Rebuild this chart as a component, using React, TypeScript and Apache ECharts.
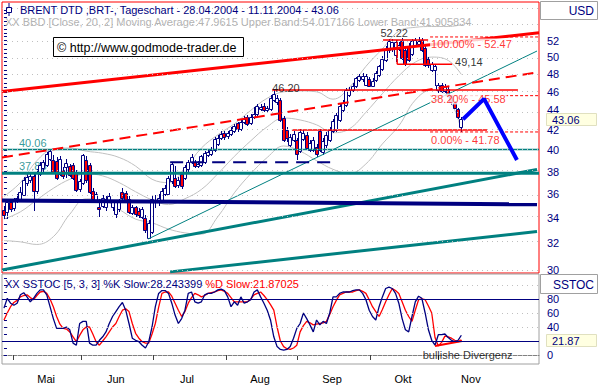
import React, { useEffect, useRef } from 'react';
import * as echarts from 'echarts';

// ---------- data ----------
const opens = [
  34.65, 34.5, 35.3, 34.8, 35.4, 35.5, 35.9, 37.0, 37.2, 37.6,
  36.3, 37.8, 38.3, 38.6, 39.2, 39.06, 39.0, 37.8, 38.1, 38.4,
  38.5, 38.6, 37.9, 36.4, 37.0, 39.1, 38.6, 36.3, 35.4, 34.9,
  35.0, 34.9, 35.4, 34.9, 34.3, 34.7, 36.2, 36.1, 35.6, 34.4,
  34.9, 34.6, 34.1, 34.0, 32.4, 32.9, 35.3, 35.3, 35.5, 36.0,
  36.0, 37.1, 37.4, 36.8, 37.8, 37.4, 38.2, 38.9, 38.9, 38.5,
  38.6, 38.9, 39.5, 39.6, 40.0, 40.6, 41.2, 41.7, 41.4, 41.6,
  41.9, 42.7, 42.1, 42.8, 43.3, 42.7, 43.3, 43.6, 44.1, 44.5,
  44.0, 44.1, 45.1, 44.9, 45.1, 43.2, 42.0, 40.5, 41.0, 41.0,
  39.9, 41.1, 41.5, 40.0, 40.0, 40.3, 41.9, 39.8, 40.5, 41.0,
  41.9, 42.0, 43.0, 44.0, 44.6, 45.6, 46.2, 46.6, 47.3, 47.4,
  46.8, 47.4, 46.7, 47.3, 47.9, 48.6, 49.7, 50.8, 51.0, 50.3,
  51.0, 52.0, 50.8, 51.4, 50.4, 51.5, 51.6, 52.1, 51.1, 49.8,
  48.5, 48.5, 46.2, 46.8, 46.1, 46.3, 45.5, 44.8, 44.1, 42.3,
];
const highs = [
  35.0, 35.5, 35.5, 35.7, 36.0, 36.6, 37.5, 37.8, 38.0, 37.9,
  38.2, 38.9, 39.1, 39.8, 40.06, 39.5, 39.3, 39.4, 38.4, 39.2,
  38.7, 38.8, 38.1, 37.3, 39.6, 39.4, 38.8, 36.5, 36.2, 35.6,
  35.9, 35.8, 36.1, 35.5, 35.5, 35.6, 36.5, 36.3, 35.8, 35.1,
  35.0, 34.8, 34.9, 34.2, 33.8, 35.8, 35.9, 36.0, 36.5, 36.8,
  37.6, 38.8, 38.5, 37.5, 38.0, 38.6, 39.1, 39.6, 39.1, 39.0,
  39.5, 39.9, 40.0, 40.3, 41.3, 41.5, 41.9, 41.9, 41.9, 42.3,
  42.6, 42.8, 43.0, 43.4, 43.5, 43.6, 44.4, 44.7, 44.7, 44.8,
  44.5, 45.6, 46.2, 45.7, 45.3, 43.4, 42.3, 41.6, 41.9, 41.2,
  42.1, 42.0, 41.8, 41.0, 41.3, 40.6, 42.1, 41.2, 41.8, 42.3,
  43.1, 43.7, 44.7, 45.1, 46.4, 46.5, 47.0, 47.7, 48.0, 48.1,
  48.0, 47.7, 47.5, 48.3, 49.1, 50.1, 51.3, 52.22, 52.2, 52.1,
  51.9, 52.3, 51.1, 51.7, 52.2, 52.4, 52.47, 52.3, 51.3, 50.0,
  49.4, 49.2, 47.0, 47.0, 46.9, 46.5, 45.7, 45.0, 44.3, 43.3,
];
const lows = [
  33.9, 33.9, 34.5, 34.6, 35.2, 35.3, 35.8, 36.7, 37.0, 34.6,
  36.0, 37.6, 38.0, 38.4, 39.0, 37.8, 37.2, 37.6, 37.3, 37.4,
  37.5, 37.2, 36.2, 36.2, 36.8, 37.0, 36.0, 35.3, 35.2, 34.1,
  34.8, 34.6, 35.2, 34.6, 34.0, 34.5, 35.5, 35.2, 34.3, 34.2,
  34.1, 34.0, 33.9, 32.8, 32.3, 32.7, 34.8, 35.0, 35.3, 35.8,
  35.9, 36.9, 36.5, 36.5, 36.4, 37.2, 38.0, 38.7, 38.3, 38.3,
  38.4, 38.7, 39.3, 39.4, 39.8, 40.4, 41.0, 41.0, 41.1, 41.4,
  41.7, 41.8, 41.9, 42.6, 42.4, 42.5, 43.1, 43.4, 43.9, 43.8,
  43.8, 43.9, 44.9, 44.6, 42.8, 40.8, 40.8, 40.3, 40.8, 39.1,
  39.7, 40.9, 40.0, 39.8, 39.8, 39.3, 39.8, 39.5, 40.2, 40.8,
  41.7, 41.8, 42.8, 43.8, 44.4, 45.4, 46.0, 46.4, 47.1, 47.1,
  46.6, 46.5, 46.5, 47.1, 47.7, 48.4, 49.4, 50.5, 50.6, 49.4,
  50.7, 49.6, 48.9, 49.4, 50.1, 51.2, 51.3, 50.6, 48.8, 48.7,
  48.2, 46.6, 45.9, 45.9, 45.9, 45.4, 44.6, 44.1, 43.1, 41.78,
];
const closes = [
  34.24, 35.3, 34.7, 35.5, 35.7, 36.2, 37.2, 37.5, 37.6, 36.3,
  37.9, 38.6, 38.9, 39.6, 39.9, 38.0, 37.4, 39.2, 37.6, 38.8,
  37.7, 37.4, 36.35, 37.1, 39.5, 37.2, 36.2, 35.6, 36.0, 34.7,
  35.7, 35.6, 35.8, 35.3, 35.3, 35.4, 35.7, 35.4, 34.5, 34.9,
  34.3, 34.2, 34.7, 33.0, 33.6, 35.6, 35.5, 35.7, 36.3, 36.5,
  37.4, 38.7, 36.7, 37.2, 36.7, 38.4, 38.9, 39.3, 38.5, 38.7,
  39.4, 39.7, 39.8, 40.0, 41.1, 41.2, 41.6, 41.3, 41.7, 42.0,
  42.4, 42.1, 42.8, 43.1, 42.6, 43.3, 43.6, 44.5, 44.4, 44.0,
  44.2, 45.3, 45.8, 45.3, 43.0, 41.0, 41.2, 41.3, 41.6, 39.6,
  41.8, 41.7, 40.2, 40.7, 41.0, 39.6, 40.0, 40.9, 41.5, 42.0,
  42.9, 43.5, 44.5, 44.8, 46.2, 46.2, 46.7, 47.5, 47.8, 47.8,
  47.8, 46.7, 47.2, 48.1, 48.9, 49.8, 51.0, 52.0, 51.9, 51.8,
  51.5, 49.9, 49.2, 49.6, 52.0, 52.1, 52.0, 50.9, 49.1, 49.0,
  49.2, 48.9, 46.8, 46.1, 46.7, 45.6, 44.9, 44.3, 43.3, 43.06,
];

// Bollinger band (20, 2) read at every 5th day
const bbDays = [0, 5, 10, 15, 20, 25, 30, 35, 40, 45, 50, 55, 60, 65, 70, 75, 80, 85, 90, 95, 100, 105, 110, 115, 120, 125, 130, 135, 139];
const bbUpper = [35.8, 37.0, 39.0, 40.1, 40.2, 39.9, 39.7, 39.3, 38.5, 37.3, 37.0, 38.3, 40.2, 41.5, 42.6, 44.0, 45.3, 46.0, 46.1, 46.0, 45.2, 46.5, 48.9, 51.0, 53.2, 53.7, 53.8, 53.8, 54.02];
const bbMiddle = [33.9, 34.5, 35.5, 36.5, 37.3, 37.8, 37.6, 37.0, 36.2, 35.5, 35.1, 35.6, 36.4, 37.8, 39.4, 40.9, 42.3, 43.2, 43.0, 42.5, 41.7, 42.1, 43.8, 45.8, 47.8, 49.4, 50.0, 49.6, 47.96];
const bbLower = [32.2, 32.1, 31.9, 32.5, 34.3, 35.6, 35.5, 34.7, 33.9, 33.6, 33.1, 32.8, 32.7, 34.1, 36.1, 37.8, 39.3, 40.4, 39.9, 39.0, 38.2, 37.8, 38.7, 40.6, 42.4, 45.1, 46.2, 45.4, 41.91];

// Slow stochastic (5,3,3)
const stochK = [
  67, 81, 74, 71, 74, 86, 89, 83, 76, 81,
  88, 93, 93, 86, 69, 52, 38, 38, 38, 40,
  36, 17, 14, 45, 48, 48, 17, 14, 14, 21,
  26, 33, 45, 55, 62, 69, 75, 64, 45, 24,
  21, 19, 14, 10, 19, 40, 69, 88, 92, 92,
  88, 74, 57, 45, 52, 64, 88, 90, 76, 74,
  76, 86, 88, 88, 90, 93, 94, 92, 83, 69,
  76, 71, 83, 74, 76, 79, 90, 93, 83, 74,
  64, 50, 26, 12, 8, 7, 8, 12, 24, 38,
  45, 60, 52, 43, 33, 50, 43, 48, 45, 60,
  83, 83, 88, 90, 90, 90, 92, 93, 93, 88,
  79, 64, 55, 50, 69, 83, 95, 97, 95, 88,
  74, 52, 36, 33, 55, 76, 84, 81, 60, 36,
  21, 14, 29, 29, 30, 25, 21, 19, 21, 28.24,
];
const stochD = [
  50, 60, 69, 75, 78, 83, 85, 86, 82, 79,
  85, 90, 91, 88, 80, 69, 55, 44, 38, 37,
  33, 26, 19, 28, 36, 40, 40, 30, 19, 14,
  20, 26, 33, 40, 45, 55, 64, 66, 62, 45,
  31, 24, 19, 17, 17, 30, 45, 68, 88, 90,
  90, 84, 74, 64, 55, 62, 74, 82, 88, 86,
  83, 85, 88, 89, 90, 92, 93, 91, 88, 82,
  76, 76, 76, 76, 76, 80, 86, 88, 90, 85,
  79, 72, 64, 40, 20, 12, 9, 8, 10, 14,
  33, 42, 48, 46, 43, 44, 45, 46, 48, 58,
  69, 78, 86, 88, 90, 90, 90, 92, 93, 91,
  88, 79, 69, 62, 55, 65, 76, 86, 95, 92,
  88, 76, 64, 55, 48, 64, 79, 80, 79, 70,
  60, 25, 13, 18, 27, 26, 24, 21, 19, 21.87,
];

// axis ticks
const priceLabels = [30, 32, 34, 36, 38, 40, 42, 44, 46, 48, 50, 52];
const priceGrid = [30, 32, 34, 36, 38, 40, 42, 44, 46, 48, 50, 52, 54, 56];
const stochLabels = [0, 40, 60, 80];
const stochTicks = [0, 10, 20, 30, 40, 50, 60, 70, 80, 90, 100, 110];
const monthLabels = ['Mai', 'Jun', 'Jul', 'Aug', 'Sep', 'Okt', 'Nov'];
const monthLabelDays = [12.8, 34.0, 55.6, 77.8, 99.7, 121.3, 141.9];
const monthTickDays = [2.74, 23.4, 45.3, 67.5, 89.1, 111.2, 131.9];

// drawn lines: [day, price]
const redChannelTop = [[-0.6, 46.03], [162.6, 53.0]];
const redChannelMid = [[-0.6, 39.3], [162.0, 48.2]];
const tealThinTrend = [[43.8, 32.32], [162.0, 50.73]];
const tealTrendA = [[-0.6, 30.0], [162.0, 38.19]];
const tealTrendB = [[50.5, 29.87], [162.0, 32.91]];
const navySupport = [[-0.6, 35.45], [162.0, 35.12]];
const navyDashed = [[50.5, 38.85], [100.0, 38.85]];
const tealLevel40 = [[-0.6, 40.06], [162.6, 40.06]];
const tealLevel37 = [[-0.6, 37.85], [162.6, 37.85]];
const redLevel46 = [[81.5, 46.2], [156.2, 46.2]];
const redLevel42 = [[87.5, 41.98], [146.8, 41.98]];
const redLevel49 = [[119.5, 49.14], [136.2, 49.14]];
const redBoxTop = [[115.2, 52.09], [128.9, 52.09]];
const redBoxSide = [[119.5, 52.09], [119.5, 49.14]];
const fibLevels = [52.47, 45.58, 41.78];
const fibStart = 129.5;
const blueProjection = [[139.5, 43.08], [145.9, 45.23], [155.9, 39.06]];
const stochDivergence = [[131.0, 12.9], [139.2, 20.0]];

const annotations = [
  { text: '52.22', day: 118.6, price: 52.91, color: '#000000', anchor: 'center', top: true },
  { text: '46.20', day: 85.7, price: 46.48, color: '#000000', anchor: 'center', top: true },
  { text: '49,14', day: 136.8, price: 49.41, color: '#000000', anchor: 'left', top: true },
  { text: '40.06', day: 4.26, price: 40.68, color: '#008080', anchor: 'left', top: false },
  { text: '37.85', day: 4.26, price: 38.5, color: '#008080', anchor: 'left', top: false },
  { text: '100.00% - 52.47', day: 129.5, price: 51.59, color: '#FF0000', anchor: 'left', top: true, bg: true },
  { text: '38.20% - 45.58', day: 129.5, price: 45.21, color: '#FF0000', anchor: 'left', top: true, bg: true },
  { text: '0.00% - 41.78', day: 129.5, price: 40.98, color: '#FF0000', anchor: 'left', top: true, bg: true },
];

const lastClose = 43.06;
const lastStoch = 21.87;

// ---------- styling ----------
const NAVY = '#000080';
const RED = '#FF0000';
const TEAL = '#008080';
const BLUE = '#0000FF';
const GRAY = '#C0C0C0';
const FONT = "'Liberation Sans', Arial, Helvetica, sans-serif";
const PRICE_MIN = 29.79;
const PRICE_MAX = 57.06;

const ln = Math.log;

function priceLine(pts: number[][], color: string, width: number, type: any = 'solid', z = 4) {
  return {
    type: 'line',
    xAxisIndex: 0,
    yAxisIndex: 0,
    data: pts.map(([d, p]) => [d, ln(p)]),
    symbol: 'none',
    silent: true,
    clip: true,
    z,
    lineStyle: { color, width, type },
  };
}

function annotationSeries(top: boolean, z: number) {
  return {
    type: 'scatter',
    xAxisIndex: 0,
    yAxisIndex: 0,
    symbolSize: 0,
    silent: true,
    z,
    data: annotations
      .filter((a) => a.top === top)
      .map((a) => ({
        value: [a.day, ln(a.price)],
        label: {
          show: true,
          formatter: a.text,
          position: a.anchor === 'left' ? 'right' : 'inside',
          distance: 0,
          color: a.color,
          fontSize: 11,
          fontFamily: FONT,
          backgroundColor: (a as any).bg ? '#ffffff' : 'transparent',
          padding: [0, 1, 0, 1],
        },
      })),
  };
}

export default function App() {
  const ref = useRef<HTMLDivElement>(null);

  useEffect(() => {
    if (!ref.current) return;
    const chart = echarts.init(ref.current, undefined, { renderer: 'svg' });

    const candleData = opens.map((o, i) => [i, ln(o), ln(highs[i]), ln(lows[i]), ln(closes[i])]);
    const minorTicks: number[] = [];
    for (let p = 30; p <= 56; p += 0.5) minorTicks.push(ln(p));

    const option: any = {
      animation: false,
      backgroundColor: '#ffffff',
      textStyle: { fontFamily: FONT },
      grid: [
        { left: 2, top: 2, width: 537, height: 271, show: true, borderColor: RED, borderWidth: 1, backgroundColor: '#ffffff' },
        { left: 2, top: 274, width: 537, height: 90, show: true, borderColor: '#A0A0A0', borderWidth: 1, backgroundColor: '#ffffff' },
      ],
      xAxis: [
        { type: 'value', gridIndex: 0, min: -0.6, max: 162.6, show: false },
        {
          type: 'value', gridIndex: 1, min: -0.6, max: 162.6, position: 'bottom',
          axisLine: { show: true, lineStyle: { color: '#808080', width: 1 } },
          axisTick: { show: true, customValues: monthTickDays, length: 5, lineStyle: { color: '#404040' } },
          axisLabel: {
            show: true, customValues: monthLabelDays, color: '#000000', fontSize: 11, margin: 9, fontFamily: FONT,
            formatter: (v: number) => {
              const k = monthLabelDays.findIndex((m) => Math.abs(m - v) < 1e-6);
              return k >= 0 ? monthLabels[k] : '';
            },
          },
          splitLine: { show: false },
        },
      ],
      yAxis: [
        {
          type: 'value', gridIndex: 0, position: 'right', offset: 3, min: ln(PRICE_MIN), max: ln(PRICE_MAX),
          axisLine: { show: false },
          axisTick: { show: true, customValues: minorTicks, length: 3, lineStyle: { color: NAVY } },
          axisLabel: {
            show: true, customValues: priceLabels.map(ln), color: NAVY, fontSize: 11, lineHeight: 10, margin: 5, fontFamily: FONT,
            formatter: (v: number) => String(Math.round(Math.exp(v))),
          },
          splitLine: { show: false },
        },
        {
          type: 'value', gridIndex: 1, position: 'right', offset: 3, min: -12.857, max: 115.714,
          axisLine: { show: false },
          axisTick: { show: true, customValues: stochTicks, length: 3, lineStyle: { color: NAVY } },
          axisLabel: { show: true, customValues: stochLabels, color: NAVY, fontSize: 11, lineHeight: 10, margin: 5, fontFamily: FONT },
          splitLine: { show: false },
        },
      ],
      series: [
        // Bollinger bands + price grid lines
        {
          type: 'line', xAxisIndex: 0, yAxisIndex: 0, symbol: 'none', smooth: 0.4, silent: true, z: 1,
          data: bbDays.map((d, k) => [d, ln(bbUpper[k])]),
          lineStyle: { color: GRAY, width: 1 },
          markLine: {
            silent: true, symbol: 'none', label: { show: false },
            lineStyle: { color: GRAY, width: 1, type: [1, 4] },
            data: priceGrid.map((p) => ({ yAxis: ln(p) })),
          },
        },
        {
          type: 'line', xAxisIndex: 0, yAxisIndex: 0, symbol: 'none', smooth: 0.4, silent: true, z: 1,
          data: bbDays.map((d, k) => [d, ln(bbMiddle[k])]),
          lineStyle: { color: GRAY, width: 1 },
        },
        {
          type: 'line', xAxisIndex: 0, yAxisIndex: 0, symbol: 'none', smooth: 0.4, silent: true, z: 1,
          data: bbDays.map((d, k) => [d, ln(bbLower[k])]),
          lineStyle: { color: GRAY, width: 1 },
        },
        annotationSeries(false, 2),
        // candles
        {
          type: 'custom', xAxisIndex: 0, yAxisIndex: 0, z: 3, silent: true, clip: true,
          data: candleData,
          encode: { x: 0, y: [1, 2, 3, 4] },
          renderItem: (_p: any, api: any) => {
            const d = api.value(0);
            const o = api.coord([d, api.value(1)]);
            const h = api.coord([d, api.value(2)]);
            const l = api.coord([d, api.value(3)]);
            const c = api.coord([d, api.value(4)]);
            const xc = Math.round(o[0]);
            const up = api.value(4) >= api.value(1);
            const top = Math.round(Math.min(o[1], c[1]));
            const bot = Math.round(Math.max(o[1], c[1]));
            return {
              type: 'group',
              children: [
                { type: 'line', shape: { x1: xc + 0.5, y1: Math.round(h[1]), x2: xc + 0.5, y2: Math.round(l[1]) }, style: { stroke: NAVY, lineWidth: 1 } },
                { type: 'rect', shape: { x: xc - 1.5, y: top + 0.5, width: 3, height: Math.max(bot - top, 1) }, style: { fill: up ? '#ffffff' : RED, stroke: NAVY, lineWidth: 1 } },
              ],
            };
          },
        },
        // overlays
        priceLine(tealTrendA, TEAL, 3),
        priceLine(tealTrendB, TEAL, 3),
        priceLine(tealThinTrend, TEAL, 1),
        priceLine(tealLevel40, TEAL, 1.5),
        priceLine(tealLevel37, TEAL, 3),
        priceLine(navySupport, NAVY, 4),
        priceLine(navyDashed, NAVY, 2, [13, 8]),
        priceLine(redChannelTop, RED, 3),
        priceLine(redChannelMid, RED, 2, [11, 6]),
        priceLine(redLevel46, RED, 1.5),
        priceLine(redLevel42, RED, 1.5),
        priceLine(redLevel49, RED, 1.5),
        priceLine(redBoxTop, RED, 1.5),
        priceLine(redBoxSide, RED, 1.5),
        ...fibLevels.map((p) => priceLine([[fibStart, p], [162.6, p]], RED, 1, [3, 2])),
        annotationSeries(true, 6),
        priceLine(blueProjection, BLUE, 4, 'solid', 7),
        // stochastic
        {
          type: 'line', xAxisIndex: 1, yAxisIndex: 1, symbol: 'none', silent: true, z: 2,
          data: stochD.map((v, i) => [i, v]),
          lineStyle: { color: RED, width: 1.3 },
          markLine: {
            silent: true, symbol: 'none', label: { show: false },
            data: [
              ...[0, 40, 60, 100].map((v) => ({ yAxis: v, lineStyle: { color: GRAY, width: 1, type: [1, 4] } })),
              ...[20, 80].map((v) => ({ yAxis: v, lineStyle: { color: NAVY, width: 1, type: 'solid' } })),
            ],
          },
        },
        {
          type: 'line', xAxisIndex: 1, yAxisIndex: 1, symbol: 'none', silent: true, z: 3,
          data: stochK.map((v, i) => [i, v]),
          lineStyle: { color: NAVY, width: 1.3 },
        },
        {
          type: 'line', xAxisIndex: 1, yAxisIndex: 1, symbol: 'none', silent: true, z: 4,
          data: stochDivergence,
          lineStyle: { color: RED, width: 2 },
        },
        {
          type: 'scatter', xAxisIndex: 1, yAxisIndex: 1, symbolSize: 0, silent: true, z: 5,
          data: [{ value: [140.9, 0], label: { show: true, formatter: 'bullishe Divergenz', position: 'inside', color: '#000000', fontSize: 11, fontFamily: FONT } }],
        },
      ],
    };

    chart.setOption(option);

    const yClose = chart.convertToPixel({ yAxisIndex: 0 } as any, ln(lastClose)) as number;
    const yStoch = chart.convertToPixel({ yAxisIndex: 1 } as any, lastStoch) as number;

    const txt = (x: number, y: number, text: string, fill: string, size = 11, align = 'left', extra: any = {}) => ({
      type: 'text', x, y, z: 100,
      style: { text, fill, font: `${size}px ${FONT}`, align, verticalAlign: 'middle', ...extra },
    });

    chart.setOption({
      graphic: [
        // title icon
        { type: 'rect', z: 100, shape: { x: 6.5, y: 7.5, width: 5, height: 5 }, style: { fill: 'none', stroke: NAVY, lineWidth: 1 } },
        { type: 'line', z: 100, shape: { x1: 9, y1: 3, x2: 9, y2: 7.5 }, style: { stroke: NAVY, lineWidth: 1 } },
        { type: 'line', z: 100, shape: { x1: 9, y1: 12.5, x2: 9, y2: 16 }, style: { stroke: NAVY, lineWidth: 1 } },
        txt(20, 9.5, 'BRENT DTD ,BRT-, Tageschart - 28.04.2004 - 11.11.2004 - 43.06', NAVY, 11),
        txt(5, 22, 'XX BBD [Close, 20, 2] Moving Average:47.9615 Upper Band:54.017166 Lower Band:41.905834', '#B4B4B4', 11),
        // watermark
        { type: 'rect', z: 100, shape: { x: 53.5, y: 37.5, width: 190, height: 19 }, style: { fill: '#ffffff', stroke: '#000000', lineWidth: 1 } },
        txt(57, 47.5, '\u00A9 http://www.godmode-trader.de', '#000000', 12.5),
        // right column header boxes
        { type: 'rect', z: 100, shape: { x: 540.5, y: 1.5, width: 57, height: 18 }, style: { fill: '#ffffff', stroke: '#A0A0A0', lineWidth: 1 } },
        txt(594, 11, 'USD', NAVY, 12, 'right'),
        { type: 'rect', z: 100, shape: { x: 540.5, y: 274.5, width: 57, height: 19 }, style: { fill: '#ffffff', stroke: '#A0A0A0', lineWidth: 1 } },
        txt(594, 284.5, 'SSTOC', NAVY, 12, 'right'),
        // last value boxes
        { type: 'rect', z: 100, shape: { x: 546.5, y: Math.round(yClose) - 5.5, width: 50, height: 12 }, style: { fill: '#FFFFE1', stroke: '#E0E0C0', lineWidth: 1 } },
        txt(552, Math.round(yClose) + 1, lastClose.toFixed(2), NAVY, 11, 'left', { lineHeight: 9 }),
        { type: 'rect', z: 100, shape: { x: 546.5, y: Math.round(yStoch) - 5.5, width: 50, height: 12 }, style: { fill: '#FFFFE1', stroke: '#E0E0C0', lineWidth: 1 } },
        txt(552, Math.round(yStoch) + 1, lastStoch.toFixed(2), NAVY, 11, 'left', { lineHeight: 9 }),
        // stochastic header
        {
          type: 'text', x: 5, y: 284, z: 100,
          style: {
            text: '{a|XX SSTOC [5, 3, 3] %K Slow:28.243399} {b|%D Slow:21.87025}',
            verticalAlign: 'middle',
            font: `11px ${FONT}`,
            rich: {
              a: { fill: NAVY, font: `11px ${FONT}` },
              b: { fill: RED, font: `11px ${FONT}` },
            },
          },
        },
      ],
    });

    return () => chart.dispose();
  }, []);

  return (
    <div
      ref={ref}
      style={{ position: 'fixed', left: 0, top: 0, width: 598, height: 388, background: '#ffffff' }}
    />
  );
}
